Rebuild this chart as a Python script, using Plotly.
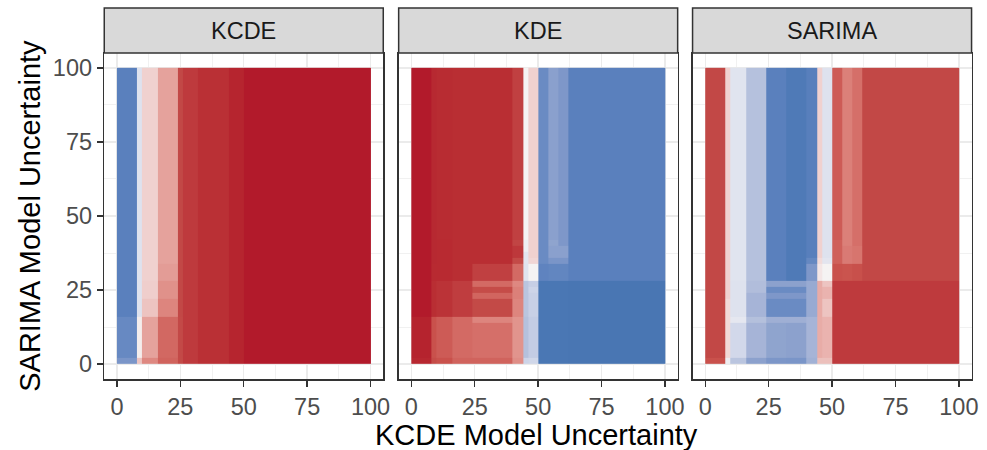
import plotly.graph_objects as go

# ---------------- data ----------------
panels = ["KCDE", "KDE", "SARIMA"]
x_edges = [0, 8, 10, 16, 24, 26, 32, 40, 44, 46, 50, 54, 58, 62, 100]
y_edges = [0, 2, 14, 16, 22, 24, 26, 28, 34, 36, 38, 40, 42, 100]
tick_vals = [0, 25, 50, 75, 100]
tick_text = ["0", "25", "50", "75", "100"]

# rows: bottom (y 0-2) to top (y 42-100); columns: left to right
kcde = [
    [-0.62, 0.20, 0.49, 0.63, 0.78, 0.85, 0.89, 0.89, 0.95, 0.95, 1.00, 1.00, 1.00, 1.00],
    [-0.72, 0.03, 0.40, 0.61, 0.79, 0.85, 0.89, 0.89, 0.95, 0.95, 1.00, 1.00, 1.00, 1.00],
    [-0.72, 0.03, 0.40, 0.61, 0.79, 0.85, 0.89, 0.89, 0.95, 0.95, 1.00, 1.00, 1.00, 1.00],
    [-0.80, -0.10, 0.20, 0.50, 0.80, 0.85, 0.89, 0.89, 0.95, 0.95, 1.00, 1.00, 1.00, 1.00],
    [-0.80, -0.10, 0.16, 0.46, 0.80, 0.85, 0.89, 0.89, 0.95, 0.95, 1.00, 1.00, 1.00, 1.00],
    [-0.80, -0.10, 0.16, 0.46, 0.80, 0.85, 0.89, 0.89, 0.95, 0.95, 1.00, 1.00, 1.00, 1.00],
    [-0.80, -0.10, 0.16, 0.46, 0.80, 0.85, 0.89, 0.89, 0.95, 0.95, 1.00, 1.00, 1.00, 1.00],
    [-0.80, -0.10, 0.15, 0.42, 0.80, 0.85, 0.89, 0.89, 0.95, 0.95, 1.00, 1.00, 1.00, 1.00],
    [-0.80, -0.10, 0.15, 0.40, 0.80, 0.85, 0.89, 0.89, 0.95, 0.95, 1.00, 1.00, 1.00, 1.00],
    [-0.80, -0.10, 0.15, 0.40, 0.80, 0.85, 0.89, 0.89, 0.95, 0.95, 1.00, 1.00, 1.00, 1.00],
    [-0.80, -0.10, 0.15, 0.40, 0.80, 0.85, 0.89, 0.89, 0.95, 0.95, 1.00, 1.00, 1.00, 1.00],
    [-0.80, -0.10, 0.15, 0.40, 0.80, 0.85, 0.89, 0.89, 0.95, 0.95, 1.00, 1.00, 1.00, 1.00],
    [-0.80, -0.10, 0.15, 0.40, 0.80, 0.85, 0.89, 0.89, 0.95, 0.95, 1.00, 1.00, 1.00, 1.00],
]

kde = [
    [0.94, 0.76, 0.70, 0.63, 0.63, 0.63, 0.63, 0.47, -0.20, -0.18, -0.90, -0.90, -0.90, -0.91],
    [0.96, 0.70, 0.66, 0.60, 0.58, 0.58, 0.58, 0.45, -0.30, -0.24, -0.90, -0.90, -0.90, -0.91],
    [0.96, 0.70, 0.66, 0.60, 0.50, 0.50, 0.50, 0.45, -0.30, -0.24, -0.90, -0.90, -0.90, -0.91],
    [1.00, 0.90, 0.88, 0.84, 0.78, 0.78, 0.78, 0.50, -0.28, -0.22, -0.90, -0.90, -0.90, -0.91],
    [1.00, 0.90, 0.88, 0.84, 0.62, 0.62, 0.62, 0.52, -0.28, -0.22, -0.90, -0.90, -0.90, -0.91],
    [1.00, 0.90, 0.88, 0.84, 0.76, 0.76, 0.76, 0.52, -0.28, -0.20, -0.90, -0.90, -0.90, -0.91],
    [1.00, 0.90, 0.88, 0.84, 0.60, 0.60, 0.60, 0.49, -0.28, -0.23, -0.90, -0.90, -0.90, -0.91],
    [1.00, 0.92, 0.92, 0.90, 0.83, 0.83, 0.83, 0.60, -0.09, 0.00, -0.77, -0.75, -0.75, -0.80],
    [1.00, 0.93, 0.92, 0.90, 0.90, 0.90, 0.90, 0.78, -0.08, 0.13, -0.70, -0.62, -0.62, -0.80],
    [1.00, 0.93, 0.92, 0.90, 0.90, 0.90, 0.90, 0.86, -0.08, 0.15, -0.70, -0.53, -0.53, -0.80],
    [1.00, 0.93, 0.92, 0.90, 0.90, 0.90, 0.90, 0.86, -0.03, 0.15, -0.70, -0.53, -0.53, -0.80],
    [1.00, 0.93, 0.92, 0.90, 0.90, 0.90, 0.90, 0.81, -0.03, 0.15, -0.70, -0.50, -0.60, -0.80],
    [1.00, 0.93, 0.91, 0.90, 0.90, 0.90, 0.90, 0.83, 0.00, 0.15, -0.70, -0.53, -0.60, -0.80],
]

sarima = [
    [0.70, -0.03, -0.28, -0.52, -0.61, -0.61, -0.62, -0.42, 0.22, 0.22, 0.85, 0.85, 0.85, 0.85],
    [0.80, 0.12, -0.17, -0.40, -0.50, -0.50, -0.52, -0.40, 0.32, 0.28, 0.85, 0.85, 0.85, 0.85],
    [0.80, 0.12, -0.07, -0.31, -0.43, -0.43, -0.43, -0.40, 0.32, 0.28, 0.85, 0.85, 0.85, 0.85],
    [0.80, 0.12, -0.10, -0.40, -0.70, -0.70, -0.70, -0.46, 0.33, 0.20, 0.85, 0.85, 0.85, 0.85],
    [0.80, 0.15, -0.10, -0.40, -0.60, -0.60, -0.60, -0.46, 0.33, 0.28, 0.85, 0.85, 0.85, 0.85],
    [0.80, 0.15, -0.10, -0.33, -0.70, -0.70, -0.70, -0.46, 0.33, 0.28, 0.85, 0.85, 0.85, 0.85],
    [0.80, 0.15, -0.10, -0.33, -0.52, -0.52, -0.52, -0.46, 0.33, 0.20, 0.85, 0.85, 0.85, 0.85],
    [0.80, 0.15, -0.09, -0.30, -0.80, -0.80, -0.87, -0.60, 0.06, 0.00, 0.70, 0.69, 0.71, 0.80],
    [0.80, 0.15, -0.09, -0.30, -0.80, -0.80, -0.87, -0.73, 0.11, -0.08, 0.64, 0.54, 0.56, 0.80],
    [0.80, 0.15, -0.09, -0.30, -0.80, -0.80, -0.87, -0.81, 0.15, -0.10, 0.64, 0.54, 0.56, 0.80],
    [0.80, 0.15, -0.09, -0.30, -0.80, -0.80, -0.87, -0.81, 0.15, -0.10, 0.64, 0.54, 0.56, 0.80],
    [0.80, 0.15, -0.09, -0.30, -0.80, -0.80, -0.87, -0.81, 0.15, -0.10, 0.64, 0.52, 0.58, 0.80],
    [0.80, 0.15, -0.09, -0.30, -0.80, -0.80, -0.87, -0.81, 0.15, -0.10, 0.66, 0.52, 0.58, 0.80],
]

# ---------------- style ----------------
color_stops = [
    (-1.00, "#3D6CAD"), (-0.90, "#4A77B4"), (-0.80, "#5A80BD"), (-0.70, "#6A8BC3"),
    (-0.60, "#7E97C9"), (-0.50, "#8FA4CE"), (-0.40, "#A6B4D7"), (-0.30, "#B5C1DD"),
    (-0.20, "#CDD4E8"), (-0.10, "#DEE2EE"), (0.00, "#F5F3F3"), (0.10, "#F3DEDD"),
    (0.15, "#F0D1CF"), (0.20, "#EDC4C1"), (0.30, "#E9AFAA"), (0.40, "#E5A29C"),
    (0.50, "#DD857E"), (0.60, "#D36A64"), (0.70, "#C9514C"), (0.80, "#C24846"),
    (0.85, "#BE3A3D"), (0.90, "#B92E33"), (0.95, "#B6252F"), (1.00, "#B21A2B"),
]
colorscale = [[(v + 1) / 2, c] for v, c in color_stops]

W, H = 987, 450
def fx(px):
    return px / W
def fy(py):
    return 1 - py / H

FONT = "Liberation Sans, Arial, sans-serif"
TICK_SIZE = 23.5
TITLE_SIZE = 29
panel_px = [(105, 386), (401.5, 682.5), (697.5, 978.5)]
y_top, y_bot = 53, 379
strip_top = 8

fig = go.Figure()
layout = dict(
    width=W, height=H, autosize=False, margin=dict(l=0, r=0, t=0, b=0),
    paper_bgcolor="white", plot_bgcolor="white",
    font=dict(family=FONT), showlegend=False, shapes=[], annotations=[],
)

zs = [kcde, kde, sarima]
for i, name in enumerate(panels):
    sfx = "" if i == 0 else str(i + 1)
    fig.add_trace(go.Heatmap(
        x=x_edges, y=y_edges, z=zs[i], colorscale=colorscale, zmin=-1, zmax=1,
        showscale=False, hoverinfo="skip", xaxis="x" + sfx, yaxis="y" + sfx,
    ))
    x0, x1 = panel_px[i]
    common = dict(
        range=[-5, 105], showgrid=True, gridcolor="#EBEBEB", gridwidth=1.4,
        zeroline=False, showline=True, mirror=True, linecolor="#333333", linewidth=1.5,
        tickvals=tick_vals, ticktext=tick_text,
        tickfont=dict(size=TICK_SIZE, color="#4D4D4D", family=FONT),
        ticklen=6, tickwidth=1.4, tickcolor="#333333",
        minor=dict(tick0=12.5, dtick=25, showgrid=True, gridcolor="#EBEBEB", gridwidth=0.7),
        fixedrange=True,
    )
    layout["xaxis" + sfx] = dict(common, domain=[fx(x0), fx(x1)], anchor="y" + sfx,
                                 ticks="outside", ticklabelstandoff=0)
    layout["yaxis" + sfx] = dict(
        common, domain=[fy(y_bot), fy(y_top)], anchor="x" + sfx,
        ticks="outside" if i == 0 else "", showticklabels=(i == 0),
    )
    layout["shapes"].append(dict(
        type="rect", xref="paper", yref="paper", x0=fx(x0), x1=fx(x1),
        y0=fy(y_top), y1=fy(strip_top),
        fillcolor="#D9D9D9", line=dict(color="#333333", width=1.5), layer="above",
    ))
    layout["annotations"].append(dict(
        text=name, xref="paper", yref="paper", x=fx((x0 + x1) / 2),
        y=fy((y_top + strip_top) / 2), showarrow=False,
        font=dict(size=TICK_SIZE, color="#1A1A1A", family=FONT), xanchor="center", yanchor="middle",
    ))

layout["annotations"].append(dict(
    text="KCDE Model Uncertainty", xref="paper", yref="paper", x=fx(540), y=fy(435),
    showarrow=False, font=dict(size=TITLE_SIZE, color="black", family=FONT),
    xanchor="center", yanchor="middle",
))
layout["annotations"].append(dict(
    text="SARIMA Model Uncertainty", xref="paper", yref="paper", x=fx(30), y=fy(216),
    showarrow=False, textangle=-90, font=dict(size=TITLE_SIZE, color="black", family=FONT),
    xanchor="center", yanchor="middle",
))

fig.update_layout(**layout)
fig.write_html(
    "out.html",
    config={"responsive": False, "displayModeBar": False, "staticPlot": True},
    post_script="document.body.style.margin='0';document.body.style.overflow='hidden';",
)
